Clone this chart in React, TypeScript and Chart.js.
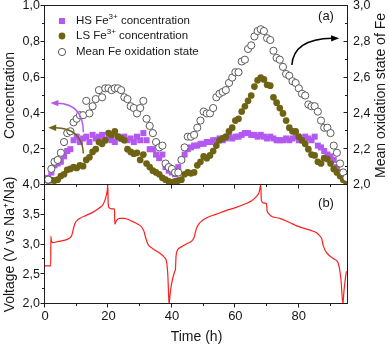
import React, { useEffect, useRef } from "react";
import { Chart, registerables } from "chart.js";

Chart.register(...registerables);

const FONT = '"Liberation Sans", Arial, Helvetica, sans-serif';

// ---------- data ----------
const time = [
  1, 2, 3, 4, 5, 6, 7, 8, 9, 10,
  11, 12, 13, 14, 15, 16, 17, 18, 19, 20,
  21, 22, 23, 24, 25, 26, 27, 28, 29, 30,
  31, 32, 33, 34, 35, 36, 37, 38, 39, 40,
  41, 42, 43, 44, 45, 46, 47, 48, 49, 50,
  51, 52, 53, 54, 55, 56, 57, 58, 59, 60,
  61, 62, 63, 64, 65, 66, 67, 68, 69, 70,
  71, 72, 73, 74, 75, 76, 77, 78, 79, 80,
  81, 82, 83, 84, 85, 86, 87, 88, 89, 90,
  91, 92, 93, 94, 95,
];

const hsConc = [
  0.04, 0.07, 0.11, 0.12, 0.13, 0.16, 0.19, 0.2, 0.25, 0.27,
  0.24, 0.26, 0.27, 0.24, 0.28, 0.26, 0.27, 0.28, 0.25, 0.26,
  0.25, 0.24, 0.27, 0.26, 0.27, 0.25, 0.26, 0.24, 0.27, 0.25,
  0.29, 0.25, 0.2, 0.2, 0.17, 0.15, 0.17, 0.1, 0.08, 0.07,
  0.06, 0.1, 0.14, 0.17, 0.2, 0.21, 0.22, 0.22, 0.23, 0.23,
  0.24, 0.24, 0.25, 0.25, 0.26, 0.25, 0.26, 0.27, 0.26, 0.27,
  0.27, 0.28, 0.29, 0.29, 0.28, 0.28, 0.27, 0.28, 0.27, 0.26,
  0.27, 0.26, 0.25, 0.25, 0.25, 0.26, 0.25, 0.26, 0.27, 0.25,
  0.25, 0.27, 0.26, 0.25, 0.27, 0.22, 0.21, 0.19, 0.17, 0.16,
  0.14, 0.1, 0.07, 0.05, 0.03,
];

const lsConc = [
  0.025, 0.027, 0.025, 0.03, 0.05, 0.06, 0.085, 0.09, 0.1, 0.095,
  0.11, 0.105, 0.14, 0.155, 0.185, 0.2, 0.24, 0.23, 0.25, 0.29,
  0.28, 0.3, 0.27, 0.26, 0.25, 0.2, 0.185, 0.175, 0.18, 0.14,
  0.17, 0.12, 0.1, 0.08, 0.07, 0.06, 0.04, 0.03, 0.02, 0.015,
  0.02, 0.025, 0.03, 0.06, 0.07, 0.065, 0.07, 0.11, 0.13, 0.16,
  0.15, 0.165, 0.19, 0.22, 0.25, 0.26, 0.27, 0.3, 0.32, 0.36,
  0.37, 0.41, 0.44, 0.47, 0.5, 0.55, 0.585, 0.6, 0.59, 0.56,
  0.555, 0.49, 0.46, 0.43, 0.4, 0.36, 0.32, 0.3, 0.3, 0.27,
  0.25, 0.23, 0.2, 0.17, 0.165, 0.13, 0.12, 0.15, 0.145, 0.12,
  0.09, 0.07, 0.05, 0.03, 0.015,
];

const oxState = [
  2.03, 2.09, 2.13, 2.14, 2.18, 2.24, 2.29, 2.3, 2.35, 2.37,
  2.39, 2.39, 2.47, 2.4, 2.44, 2.48, 2.53, 2.49, 2.54, 2.54,
  2.53, 2.54, 2.54, 2.53, 2.49, 2.48, 2.44, 2.43, 2.4, 2.43,
  2.47, 2.37, 2.33, 2.29, 2.24, 2.21, 2.22, 2.12, 2.1, 2.09,
  2.07, 2.07, 2.14, 2.21, 2.27, 2.27, 2.28, 2.32, 2.36, 2.41,
  2.4, 2.4, 2.43, 2.49, 2.51, 2.52, 2.53, 2.57, 2.6, 2.63,
  2.63, 2.69, 2.7, 2.76, 2.78, 2.83, 2.86, 2.87, 2.86, 2.82,
  2.81, 2.75, 2.71, 2.7, 2.66, 2.62, 2.61, 2.58, 2.57, 2.54,
  2.51, 2.5, 2.45, 2.44, 2.44, 2.41, 2.36, 2.32, 2.32, 2.29,
  2.22, 2.18, 2.12, 2.07, 2.04,
];

const vTime = [
  0, 1.8, 1.85, 2.0, 2.6, 4, 6, 7.5, 8.4, 8.9,
  9.4, 10.2, 11, 13, 15, 17, 18.4, 19.2, 19.6, 19.8,
  19.9, 20.2, 21, 21.9, 22, 22.5, 23.5, 25, 27, 29,
  30.5, 31.2, 31.8, 32.5, 34, 36, 37.5, 38.3, 38.7, 39.0,
  39.1, 39.4, 39.9, 40.5, 40.9, 41.1, 41.3, 41.6, 43, 45,
  46.3, 47.0, 47.6, 48.3, 49.5, 51, 54, 57, 60, 63,
  65, 66.5, 67.5, 68.0, 68.2, 68.8, 69.8, 70.0, 70.5, 71.5,
  74, 77, 80, 83, 85.5, 86.5, 87.2, 87.7, 88.3, 89.5,
  91, 92.3, 92.8, 93.3, 93.9, 94.2, 94.6, 95,
];

const voltage = [
  2.64, 2.64, 3.14, 3.06, 3.03, 3.05, 3.07, 3.1, 3.15, 3.25,
  3.35, 3.41, 3.44, 3.49, 3.54, 3.61, 3.68, 3.8, 3.9, 4.0,
  3.7, 3.62, 3.6, 3.6, 3.34, 3.4, 3.44, 3.44, 3.4, 3.35,
  3.29, 3.22, 3.1, 3.0, 2.93, 2.86, 2.79, 2.71, 2.5, 2.1,
  2.0, 2.15, 2.34, 2.48, 2.55, 2.58, 2.8, 2.89, 2.96, 3.02,
  3.06, 3.12, 3.25, 3.33, 3.4, 3.45, 3.51, 3.57, 3.62, 3.68,
  3.73, 3.8, 3.88, 4.0, 3.74, 3.7, 3.69, 3.57, 3.52, 3.47,
  3.44, 3.37, 3.3, 3.25, 3.2, 3.15, 3.1, 2.98, 2.9, 2.82,
  2.76, 2.7, 2.6, 2.4, 2.0, 2.2, 2.4, 2.55,
];

const concTicks = [0, 0.2, 0.4, 0.6, 0.8, 1.0];
const concMinor = [0.1, 0.3, 0.5, 0.7, 0.9];
const oxTicks = [2.0, 2.2, 2.4, 2.6, 2.8, 3.0];
const oxMinor = [2.1, 2.3, 2.5, 2.7, 2.9];
const voltTicks = [2.0, 2.5, 3.0, 3.5, 4.0];
const voltMinor = [2.25, 2.75, 3.25, 3.75];
const timeTicks = [0, 20, 40, 60, 80];
const timeMinor = [10, 30, 50, 70, 90];

const seriesLabels = [
  "HS Fe³⁺ concentration",
  "LS Fe³⁺ concentration",
  "Mean Fe oxidation state",
];
// legend text split into [normal, superscript, normal]
const legendParts = [
  ["HS Fe", "3+", " concentration"],
  ["LS Fe", "3+", " concentration"],
  ["Mean Fe oxidation state"],
];

const X_MIN = 0;
const X_MAX = 95.5;

// ---------- styles ----------
const PURPLE = "#B458F2";
const OLIVE = "#6E6312";
const OPEN = "#5a5a5a";
const RED = "#FF1E1E";
const AXIS = "#1e1e1e";
const TEXT = "#161616";

const fmt = (v: number) => v.toFixed(1).replace(".", ",");

type TickSpec = { axis: string; values: number[]; len: number; side: "left" | "right" | "bottom"; inward: boolean };

function makeFramePlugin(id: string, specs: TickSpec[]) {
  return {
    id,
    afterDatasetsDraw(chart: any) {
      const { ctx, chartArea: ca } = chart;
      const L = Math.round(ca.left) - 0.5;
      const R = Math.round(ca.right) - 0.5;
      const T = Math.round(ca.top) - 0.5;
      const B = Math.round(ca.bottom) - 0.5;
      ctx.save();
      ctx.strokeStyle = AXIS;
      ctx.lineWidth = 1;
      ctx.strokeRect(L, T, R - L, B - T);
      ctx.beginPath();
      for (const s of specs) {
        const scale = chart.scales[s.axis];
        for (const v of s.values) {
          const p = Math.round(scale.getPixelForValue(v)) - 0.5;
          if (s.side === "left") {
            const d = s.inward ? s.len : -s.len;
            ctx.moveTo(L, p);
            ctx.lineTo(L + d, p);
          } else if (s.side === "right") {
            const d = s.inward ? -s.len : s.len;
            ctx.moveTo(R, p);
            ctx.lineTo(R + d, p);
          } else {
            const d = s.inward ? -s.len : s.len;
            ctx.moveTo(p, B);
            ctx.lineTo(p, B + d);
          }
        }
      }
      ctx.stroke();
      ctx.restore();
    },
  };
}

function drawArrow(ctx: CanvasRenderingContext2D, p0: number[], p1: number[], p2: number[], color: string) {
  const ang = Math.atan2(p2[1] - p1[1], p2[0] - p1[0]);
  const HL = 8;
  const HW = 3.2;
  const bx = p2[0] - HL * Math.cos(ang);
  const by = p2[1] - HL * Math.sin(ang);
  ctx.save();
  ctx.strokeStyle = color;
  ctx.fillStyle = color;
  ctx.lineWidth = 1.5;
  ctx.beginPath();
  ctx.moveTo(p0[0], p0[1]);
  ctx.quadraticCurveTo(p1[0], p1[1], bx + 1 * Math.cos(ang), by + 1 * Math.sin(ang));
  ctx.stroke();
  ctx.beginPath();
  ctx.moveTo(p2[0], p2[1]);
  ctx.lineTo(bx + HW * Math.sin(ang), by - HW * Math.cos(ang));
  ctx.lineTo(bx - HW * Math.sin(ang), by + HW * Math.cos(ang));
  ctx.closePath();
  ctx.fill();
  ctx.restore();
}

// arrow annotations in data units (time, concentration)
const arrowSpecs = [
  { tail: [12.1, 0.295], ctrl: [12.0, 0.455], tip: [1.7, 0.458], color: PURPLE },
  { tail: [12.1, 0.176], ctrl: [11.7, 0.318], tip: [1.0, 0.32], color: OLIVE },
  { tail: [77.8, 0.67], ctrl: [78.4, 0.815], tip: [92.7, 0.82], color: "#000000" },
];

const topDecorPlugin = {
  id: "topDecor",
  afterDraw(chart: any) {
    const { ctx, chartArea: ca } = chart;
    const xs = chart.scales.x;
    const ys = chart.scales.yC;
    // arrows
    for (const a of arrowSpecs) {
      const px = (p: number[]) => [xs.getPixelForValue(p[0]), ys.getPixelForValue(p[1])];
      drawArrow(ctx, px(a.tail), px(a.ctrl), px(a.tip), a.color);
    }
    ctx.save();
    // legend
    const mx = ca.left + 17;
    const tx = ca.left + 31;
    const rows = [ca.top + 15, ca.top + 30, ca.top + 46];
    // markers
    ctx.fillStyle = PURPLE;
    ctx.fillRect(mx - 3, rows[0] - 3, 6, 6);
    ctx.fillStyle = OLIVE;
    ctx.beginPath();
    ctx.arc(mx, rows[1], 3.4, 0, Math.PI * 2);
    ctx.fill();
    ctx.fillStyle = "#fff";
    ctx.strokeStyle = OPEN;
    ctx.lineWidth = 1;
    ctx.beginPath();
    ctx.arc(mx, rows[2], 3.6, 0, Math.PI * 2);
    ctx.fill();
    ctx.stroke();
    // texts
    ctx.fillStyle = TEXT;
    ctx.textBaseline = "middle";
    ctx.textAlign = "left";
    legendParts.forEach((parts, i) => {
      let x = tx;
      const y = rows[i];
      parts.forEach((p, j) => {
        const sup = j % 2 === 1;
        ctx.font = `${sup ? 8 : 11.5}px ${FONT}`;
        ctx.fillText(p, x, sup ? y - 4.5 : y);
        x += ctx.measureText(p).width;
      });
    });
    // panel label
    ctx.font = `13px ${FONT}`;
    ctx.textAlign = "center";
    ctx.fillText("(a)", ca.right - 22, ca.top + 10);
    // right axis title (reads bottom-to-top)
    ctx.font = `14px ${FONT}`;
    ctx.translate(ca.right + 33, (ca.top + ca.bottom) / 2);
    ctx.rotate(-Math.PI / 2);
    ctx.textAlign = "center";
    ctx.textBaseline = "middle";
    ctx.fillText("Mean oxidation state of Fe", 0, 0);
    ctx.restore();
  },
};

const bottomDecorPlugin = {
  id: "bottomDecor",
  afterDraw(chart: any) {
    const { ctx, chartArea: ca } = chart;
    ctx.save();
    ctx.fillStyle = TEXT;
    ctx.font = `13px ${FONT}`;
    ctx.textAlign = "center";
    ctx.textBaseline = "middle";
    ctx.fillText("(b)", ca.right - 22, ca.top + 18);
    ctx.restore();
  },
};

const tickFont = { family: FONT, size: 12.5 };
const titleFont = { family: FONT, size: 14 };

export default function App() {
  const topRef = useRef<HTMLCanvasElement | null>(null);
  const botRef = useRef<HTMLCanvasElement | null>(null);

  useEffect(() => {
    const pts = (ys: number[]) => time.map((t, i) => ({ x: t, y: ys[i] }));

    const top = new Chart(topRef.current as HTMLCanvasElement, {
      type: "scatter",
      data: {
        datasets: [
          {
            label: seriesLabels[0],
            data: pts(hsConc),
            yAxisID: "yC",
            pointStyle: "rect",
            pointRadius: 4.25,
            backgroundColor: PURPLE,
            borderColor: PURPLE,
            borderWidth: 0,
            order: 2,
          },
          {
            label: seriesLabels[1],
            data: pts(lsConc),
            yAxisID: "yC",
            pointStyle: "circle",
            pointRadius: 3.35,
            backgroundColor: OLIVE,
            borderColor: OLIVE,
            borderWidth: 0,
            order: 1,
          },
          {
            label: seriesLabels[2],
            data: pts(oxState),
            yAxisID: "yOx",
            pointStyle: "circle",
            pointRadius: 3.6,
            backgroundColor: "#ffffff",
            borderColor: OPEN,
            borderWidth: 1,
            order: 0,
          },
        ],
      },
      options: {
        animation: false,
        responsive: false,
        devicePixelRatio: 1,
        events: [],
        layout: { padding: { top: 6, bottom: 165, left: 0, right: 0 } },
        plugins: { legend: { display: false }, tooltip: { enabled: false } },
        scales: {
          x: { type: "linear", min: X_MIN, max: X_MAX, display: false },
          yC: {
            type: "linear",
            position: "left",
            min: 0,
            max: 1,
            afterBuildTicks: (s: any) => {
              s.ticks = concTicks.map((v) => ({ value: v }));
            },
            afterFit: (s: any) => {
              s.width = 45;
              s.paddingTop = 0;
              s.paddingBottom = 0;
            },
            ticks: {
              callback: (v: any) => (v === 0 ? "" : fmt(Number(v))),
              font: tickFont,
              color: TEXT,
              padding: 5,
              autoSkip: false,
            },
            grid: { display: false, drawTicks: false },
            border: { display: false },
            title: { display: true, text: "Concentration", font: titleFont, color: TEXT, padding: { top: 2, bottom: 0 } },
          },
          yOx: {
            type: "linear",
            position: "right",
            min: 2,
            max: 3,
            afterBuildTicks: (s: any) => {
              s.ticks = oxTicks.map((v) => ({ value: v }));
            },
            afterFit: (s: any) => {
              s.width = 41;
              s.paddingTop = 0;
              s.paddingBottom = 0;
            },
            ticks: {
              callback: (v: any) => fmt(Number(v)),
              font: tickFont,
              color: TEXT,
              padding: 5,
              autoSkip: false,
            },
            grid: { display: false, drawTicks: false },
            border: { display: false },
          },
        },
      } as any,
      plugins: [
        makeFramePlugin("frameTop", [
          { axis: "yC", values: concTicks, len: 4, side: "left", inward: false },
          { axis: "yC", values: concMinor, len: 2.5, side: "left", inward: false },
          { axis: "yOx", values: oxTicks, len: 4, side: "right", inward: true },
          { axis: "yOx", values: oxMinor, len: 2.5, side: "right", inward: true },
          { axis: "x", values: timeTicks, len: 4, side: "bottom", inward: false },
          { axis: "x", values: timeMinor, len: 2.5, side: "bottom", inward: false },
        ]),
        topDecorPlugin,
      ],
    });

    const bottom = new Chart(botRef.current as HTMLCanvasElement, {
      type: "line",
      data: {
        datasets: [
          {
            label: "Voltage",
            data: vTime.map((t, i) => ({ x: t, y: voltage[i] })),
            xAxisID: "x",
            yAxisID: "yV",
            borderColor: RED,
            borderWidth: 1.2,
            pointRadius: 0,
            fill: false,
            cubicInterpolationMode: "monotone",
          },
        ],
      },
      options: {
        animation: false,
        responsive: false,
        devicePixelRatio: 1,
        events: [],
        layout: { padding: { top: 185, bottom: 0, left: 0, right: 41 } },
        plugins: { legend: { display: false }, tooltip: { enabled: false } },
        scales: {
          x: {
            type: "linear",
            position: "bottom",
            min: X_MIN,
            max: X_MAX,
            afterBuildTicks: (s: any) => {
              s.ticks = timeTicks.map((v) => ({ value: v }));
            },
            afterFit: (s: any) => {
              s.height = 46;
              s.paddingLeft = 0;
              s.paddingRight = 0;
            },
            ticks: {
              callback: (v: any) => String(v),
              font: { family: FONT, size: 13 },
              color: TEXT,
              padding: 5,
              maxRotation: 0,
              autoSkip: false,
            },
            grid: { display: false, drawTicks: false },
            border: { display: false },
            title: { display: true, text: "Time (h)", font: titleFont, color: TEXT, padding: { top: 0, bottom: 4 } },
          },
          yV: {
            type: "linear",
            position: "left",
            min: 2,
            max: 4,
            afterBuildTicks: (s: any) => {
              s.ticks = voltTicks.map((v) => ({ value: v }));
            },
            afterFit: (s: any) => {
              s.width = 45;
              s.paddingTop = 0;
              s.paddingBottom = 0;
            },
            ticks: {
              callback: (v: any) => fmt(Number(v)),
              font: tickFont,
              color: TEXT,
              padding: 5,
              autoSkip: false,
            },
            grid: { display: false, drawTicks: false },
            border: { display: false },
            title: { display: true, text: "Voltage (V vs Na⁺/Na)", font: titleFont, color: TEXT, padding: { top: 2, bottom: 0 } },
          },
        },
      } as any,
      plugins: [
        makeFramePlugin("frameBottom", [
          { axis: "yV", values: voltTicks, len: 4, side: "left", inward: false },
          { axis: "yV", values: voltMinor, len: 2.5, side: "left", inward: false },
          { axis: "x", values: timeTicks, len: 4, side: "bottom", inward: false },
          { axis: "x", values: timeMinor, len: 2.5, side: "bottom", inward: false },
        ]),
        bottomDecorPlugin,
      ],
    });

    return () => {
      top.destroy();
      bottom.destroy();
    };
  }, []);

  const canvasStyle: React.CSSProperties = { position: "absolute", left: 0, top: 0, width: 389, height: 350 };
  return (
    <div style={{ position: "fixed", left: 0, top: 0, width: 389, height: 350, background: "#fff" }}>
      <canvas ref={topRef} width={389} height={350} style={canvasStyle} />
      <canvas ref={botRef} width={389} height={350} style={canvasStyle} />
    </div>
  );
}
